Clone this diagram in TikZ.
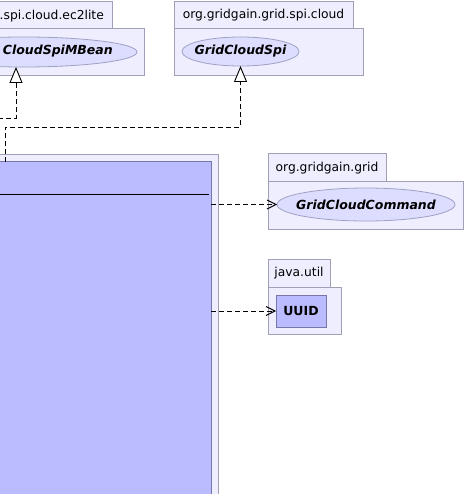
\documentclass[tikz,border=0pt]{standalone}
\usepackage{fontspec}
\setmainfont{DejaVu Sans}
\usetikzlibrary{arrows.meta,shapes.geometric}
\definecolor{pkgfill}{HTML}{EEEEFF}
\definecolor{pkgline}{HTML}{A0A0B8}
\definecolor{ifacefill}{HTML}{DDDDFF}
\definecolor{ifaceline}{HTML}{A0A0C4}
\definecolor{clsfill}{HTML}{BBBBFF}
\definecolor{clsline}{HTML}{7878A8}
\tikzset{
  box/.style={rectangle, inner sep=0pt, outer sep=0pt, anchor=north west},
  pkgbox/.style={box, draw=pkgline, fill=pkgfill, line width=1pt},
  clsbox/.style={box, draw=clsline, fill=clsfill, line width=1pt},
  iface/.style={ellipse, inner sep=0pt, outer sep=0pt, draw=ifaceline, fill=ifacefill, line width=0.8pt},
  pkgtext/.style={inner sep=0pt, font=\fontsize{12.3}{14}\selectfont},
  ifacetext/.style={inner sep=0pt, font=\fontsize{12.5}{14}\selectfont\bfseries\itshape},
  clstext/.style={inner sep=0pt, font=\fontsize{12.5}{14}\selectfont\bfseries},
  realize/.style={dash pattern=on 5pt off 3pt, line width=0.9pt,
    -{Triangle[length=16pt, width=13pt, fill=white, line width=0.9pt]}},
  depend/.style={dash pattern=on 5pt off 3pt, line width=0.9pt,
    -{Straight Barb[length=9pt, width=9pt, line width=0.9pt]}}
}
\begin{document}
\begin{tikzpicture}[x=1pt, y=-1pt]
\useasboundingbox (0,0) rectangle (465,494);
\clip (0,0) rectangle (465,494);

% package ...spi.cloud.ec2lite
\node[pkgbox, minimum width=172pt, minimum height=27pt] (tab1) at (-60,2) {};
\node[pkgbox, minimum width=204pt, minimum height=47pt] (pkg1) at (-60,29) {};
\node[pkgtext, anchor=east] (tab1t) at (104,16) {.spi.cloud.ec2lite};
\node[iface, minimum width=226pt, minimum height=30pt] (e1) at (24,52) {};
\node[ifacetext, anchor=east] (e1t) at (113,51) {CloudSpiMBean};

% package org.gridgain.grid.spi.cloud
\node[pkgbox, minimum width=179pt, minimum height=27pt] (tab2) at (174,2) {};
\node[pkgbox, minimum width=189pt, minimum height=47pt] (pkg2) at (174,29) {};
\node[pkgtext] (tab2t) at (tab2.center) {org.gridgain.grid.spi.cloud};
\node[iface, minimum width=117pt, minimum height=29pt] (e2) at (240.5,51.5) {};
\node[ifacetext] (e2t) at (e2.center) {GridCloudSpi};

% package org.gridgain.grid
\node[pkgbox, minimum width=118pt, minimum height=28pt] (tab3) at (268,154) {};
\node[pkgbox, minimum width=195pt, minimum height=47pt] (pkg3) at (268,182) {};
\node[pkgtext] (tab3t) at (tab3.center) {org.gridgain.grid};
\node[iface, minimum width=178pt, minimum height=33pt] (e3) at (366,204.5) {};
\node[ifacetext] (e3t) at (e3.center) {GridCloudCommand};

% package java.util
\node[pkgbox, minimum width=62pt, minimum height=28pt] (tab4) at (268,259) {};
\node[pkgbox, minimum width=73pt, minimum height=47pt] (pkg4) at (268,287) {};
\node[pkgtext] (tab4t) at (tab4.center) {java.util};
\node[clsbox, minimum width=50pt, minimum height=32pt] (uuid) at (276,295) {};
\node[clstext] (uuidt) at (uuid.center) {UUID};

% enclosing package and main class
\node[pkgbox, minimum width=318pt, minimum height=380pt] (pkg0) at (-100,155) {};
\node[clsbox, minimum width=311pt, minimum height=370pt] (cls) at (-100,162) {};
\coordinate (sepL) at (-100,194);
\coordinate (sepR) at (209,194);
\draw[line width=1pt] (sepL) -- (sepR);

% realizations
\coordinate (src1) at (-10,118);
\draw[realize] (src1) -| ([xshift=-8pt]e1.south);
\coordinate (clsTop) at (5,162);
\draw[realize] (clsTop) -- ++(0,-35) -| (e2.south);

% dependencies
\draw[depend] (e3.west -| cls.east) -- (e3.west);
\draw[depend] (uuid.west -| cls.east) -- (uuid.west);
\end{tikzpicture}
\end{document}
